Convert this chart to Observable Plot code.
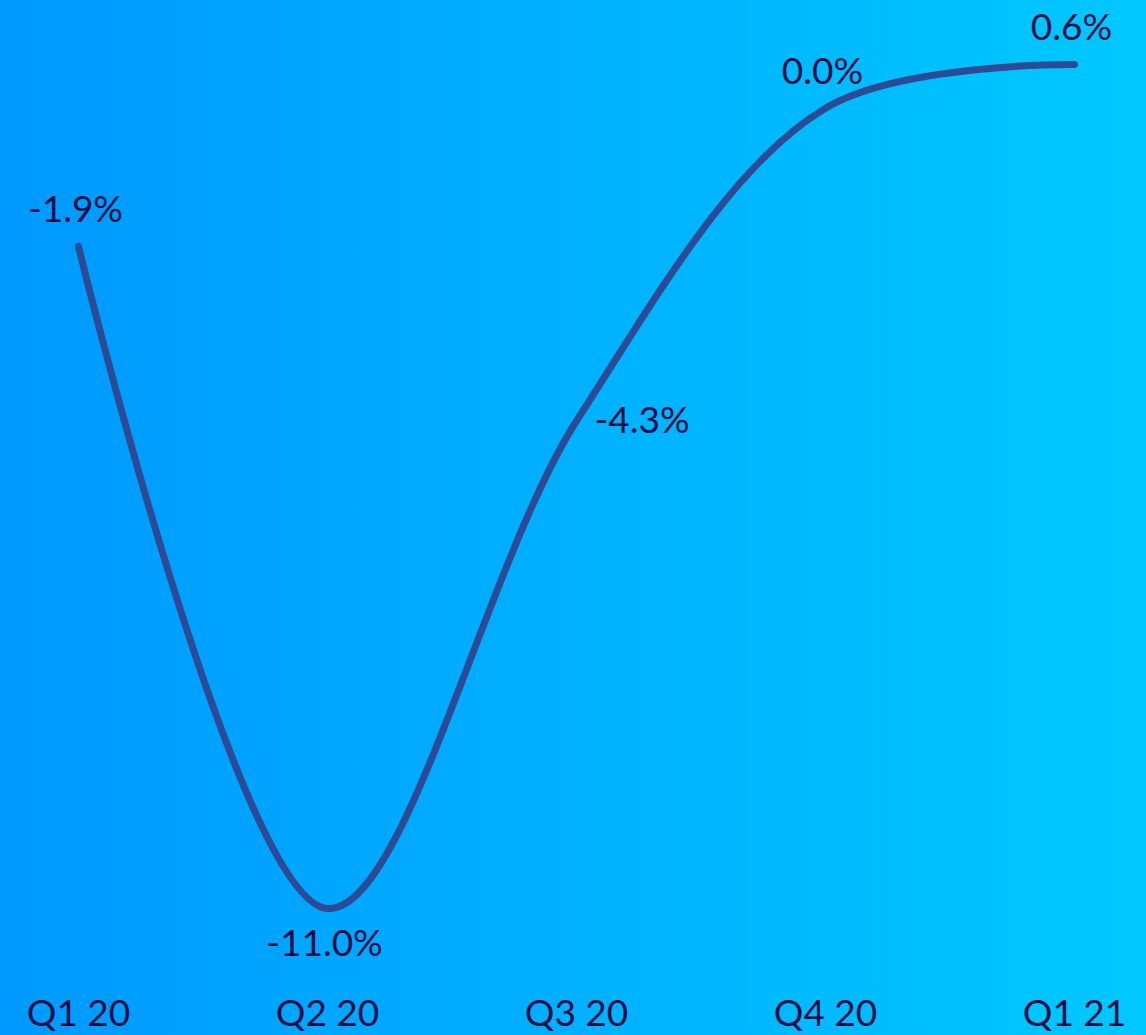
<!DOCTYPE html>
<html>
<head>
<meta charset="utf-8">
<script src="https://cdn.jsdelivr.net/npm/d3@7"></script>
<script src="https://cdn.jsdelivr.net/npm/@observablehq/plot@0.6"></script>
<style>
  html, body { margin: 0; padding: 0; }
  body { width: 1146px; height: 1035px; overflow: hidden;
    background: linear-gradient(to right, #0099ff 0%, #00c8ff 100%); }
  #chart svg { display: block; background: transparent; }
</style>
</head>
<body>
<div id="chart"></div>
<script>
const quarters = ["Q1 20", "Q2 20", "Q3 20", "Q4 20", "Q1 21"];
const growth = [-1.9, -11.0, -4.3, 0.0, 0.6];
const labels = ["-1.9%", "-11.0%", "-4.3%", "0.0%", "0.6%"];
const labelAnchor = ["above", "below", "right", "aboveleft", "above"];

const data = quarters.map((q, i) => ({q, v: growth[i], label: labels[i], pos: labelAnchor[i]}));

const font = "Lato, 'Open Sans', sans-serif";
const textColor = "#0b0d45";
const fs = 37;

const chart = Plot.plot({
  width: 1146,
  height: 1035,
  marginLeft: 77,
  marginRight: 71,
  marginTop: 64,
  marginBottom: 127,
  style: {background: "transparent", fontFamily: font, color: textColor},
  x: {type: "point", domain: quarters, padding: 0, label: null},
  y: {domain: [-11.0, 0.6], axis: null},
  marks: [
    Plot.axisX({tickSize: 0, tickPadding: 91, fontSize: fs, fill: textColor, label: null}),
    Plot.line(data, {x: "q", y: "v", curve: "catmull-rom", stroke: "#2c4b94", strokeWidth: 7, strokeLinecap: "round"}),
    Plot.text(data.filter(d => d.pos === "above"), {x: "q", y: "v", text: "label", dy: -36, dx: -3, fontSize: fs, fill: textColor}),
    Plot.text(data.filter(d => d.pos === "below"), {x: "q", y: "v", text: "label", dy: 36, dx: -3, fontSize: fs, fill: textColor}),
    Plot.text(data.filter(d => d.pos === "right"), {x: "q", y: "v", text: "label", dx: 18, dy: 0, textAnchor: "start", fontSize: fs, fill: textColor}),
    Plot.text(data.filter(d => d.pos === "aboveleft"), {x: "q", y: "v", text: "label", dx: -3, dy: -36, fontSize: fs, fill: textColor})
  ]
});
document.getElementById("chart").append(chart);
</script>
</body>
</html>
